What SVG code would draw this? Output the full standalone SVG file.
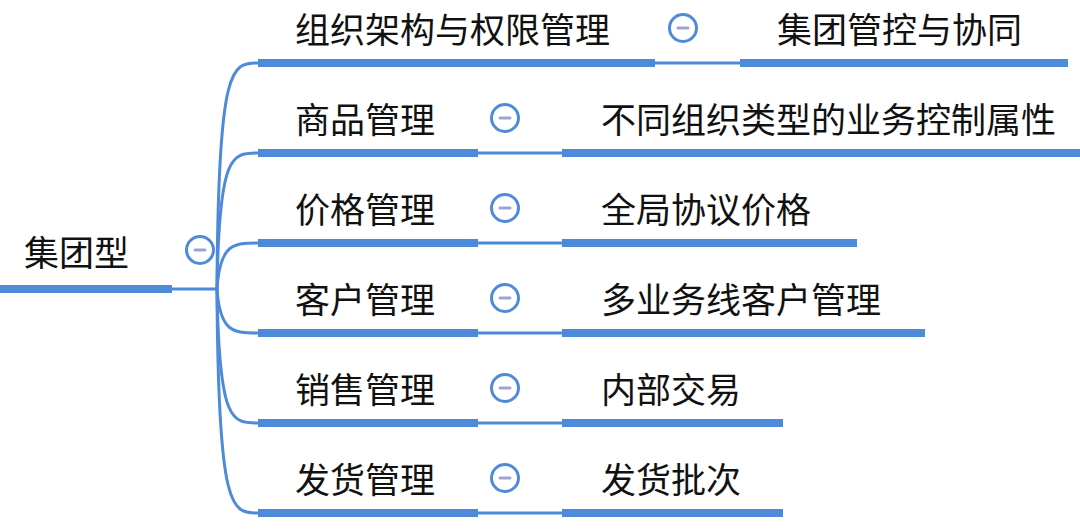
<svg xmlns="http://www.w3.org/2000/svg" width="1080" height="530" viewBox="0 0 1080 530">
<style>
.t{font-family:"Noto Sans CJK SC","Noto Sans",sans-serif;font-size:35px;fill:#111}
.bar{stroke:#4d8ad9;stroke-width:8;fill:none}
.thin{stroke:#4d8ad9;stroke-width:3;fill:none}
.c{fill:#fff;stroke:#4d8ad9;stroke-width:3}
.m{stroke:#9ea3cf;stroke-width:3;stroke-linecap:round}
</style>
<rect width="1080" height="530" fill="#fff"/>
<g id="connectors">
<path class="thin" d="M172,289 H217"/>
<path class="thin" d="M217,289 C218,63 232,63 258,63"/>
<path class="thin" d="M217,289 C219,153 232,153 258,153"/>
<path class="thin" d="M217,289 C220,243 234,243 258,243"/>
<path class="thin" d="M217,289 C220,333 234,333 258,333"/>
<path class="thin" d="M217,289 C219,423 232,423 258,423"/>
<path class="thin" d="M217,289 C218,513 232,513 258,513"/>
<path class="thin" d="M655,63 H740"/>
<path class="thin" d="M478,153 H562"/>
<path class="thin" d="M478,243 H562"/>
<path class="thin" d="M478,333 H562"/>
<path class="thin" d="M478,423 H562"/>
<path class="thin" d="M478,513 H562"/>
</g>
<g id="root">
<text class="t" x="24" y="266">集团型</text>
<path class="bar" d="M0,289 H172"/>
<circle class="c" cx="200" cy="250" r="13.5"/><path class="m" d="M195,250 H205"/>
</g>
<g id="n1">
<text class="t" x="295" y="43">组织架构与权限管理</text>
<path class="bar" d="M258,63 H655"/>
<circle class="c" cx="683" cy="28" r="13.5"/><path class="m" d="M678,28 H688"/>
</g>
<g id="n1a"><text class="t" x="777" y="43">集团管控与协同</text><path class="bar" d="M740,63 H1068"/></g>
<g id="n2">
<text class="t" x="295" y="133">商品管理</text>
<path class="bar" d="M258,153 H478"/>
<circle class="c" cx="505" cy="118" r="13.5"/><path class="m" d="M500,118 H510"/>
</g>
<g id="n2a"><text class="t" x="601" y="133">不同组织类型的业务控制属性</text><path class="bar" d="M562,153 H1080"/></g>
<g id="n3">
<text class="t" x="295" y="223">价格管理</text>
<path class="bar" d="M258,243 H478"/>
<circle class="c" cx="505" cy="208" r="13.5"/><path class="m" d="M500,208 H510"/>
</g>
<g id="n3a"><text class="t" x="601" y="223">全局协议价格</text><path class="bar" d="M562,243 H857"/></g>
<g id="n4">
<text class="t" x="295" y="313">客户管理</text>
<path class="bar" d="M258,333 H478"/>
<circle class="c" cx="505" cy="298" r="13.5"/><path class="m" d="M500,298 H510"/>
</g>
<g id="n4a"><text class="t" x="601" y="313">多业务线客户管理</text><path class="bar" d="M562,333 H925"/></g>
<g id="n5">
<text class="t" x="295" y="403">销售管理</text>
<path class="bar" d="M258,423 H478"/>
<circle class="c" cx="505" cy="388" r="13.5"/><path class="m" d="M500,388 H510"/>
</g>
<g id="n5a"><text class="t" x="601" y="403">内部交易</text><path class="bar" d="M562,423 H783"/></g>
<g id="n6">
<text class="t" x="295" y="493">发货管理</text>
<path class="bar" d="M258,513 H478"/>
<circle class="c" cx="505" cy="478" r="13.5"/><path class="m" d="M500,478 H510"/>
</g>
<g id="n6a"><text class="t" x="601" y="493">发货批次</text><path class="bar" d="M562,513 H783"/></g>
</svg>
